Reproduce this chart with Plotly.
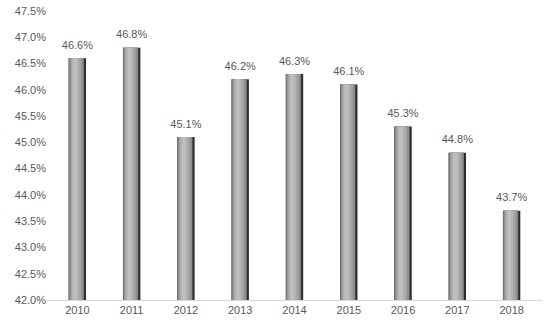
import plotly.graph_objects as go

years = ["2010", "2011", "2012", "2013", "2014", "2015", "2016", "2017", "2018"]
values = [46.6, 46.8, 45.1, 46.2, 46.3, 46.1, 45.3, 44.8, 43.7]
labels = ["46.6%", "46.8%", "45.1%", "46.2%", "46.3%", "46.1%", "45.3%", "44.8%", "43.7%"]
tick_vals = [42.0, 42.5, 43.0, 43.5, 44.0, 44.5, 45.0, 45.5, 46.0, 46.5, 47.0, 47.5]
tick_text = ["42.0%", "42.5%", "43.0%", "43.5%", "44.0%", "44.5%", "45.0%", "45.5%", "46.0%", "46.5%", "47.0%", "47.5%"]

FONT = "Liberation Sans, Arial, sans-serif"
BAR_W = 0.32
# layers: (width fraction, offset fraction from left edge, colour) to imitate a shaded cylinder
layers = [
    (1.00, 0.00, "#2e2e2e"),
    (0.88, 0.00, "#707070"),
    (0.80, 0.05, "#8e8e8e"),
    (0.62, 0.11, "#a4a4a4"),
    (0.40, 0.19, "#b4b4b4"),
    (0.20, 0.27, "#bfbfbf"),
]

fig = go.Figure()
for wf, of, col in layers:
    w = BAR_W * wf
    off = -BAR_W / 2 + BAR_W * of
    fig.add_trace(go.Bar(
        x=years, y=[v - 42.0 for v in values], base=42.0,
        width=w, offset=off,
        marker=dict(color=col, line=dict(width=0)),
        hoverinfo="skip", showlegend=False,
    ))

fig.add_trace(go.Scatter(
    x=years, y=values, mode="markers+text", text=labels,
    textposition="top center",
    marker=dict(size=9, color="rgba(0,0,0,0)"),
    textfont=dict(color="#595959", size=11, family=FONT),
    cliponaxis=False, hoverinfo="skip", showlegend=False,
))

fig.update_layout(
    width=550, height=326,
    barmode="overlay",
    margin=dict(l=47, r=8, t=11, b=26),
    paper_bgcolor="white", plot_bgcolor="white",
    font=dict(family=FONT, color="#595959", size=11),
    xaxis=dict(
        type="category",
        showgrid=False, showline=True, linecolor="#d9d9d9", linewidth=1,
        ticks="", tickfont=dict(size=11, color="#595959"), automargin=False,
    ),
    yaxis=dict(
        range=[42.0, 47.5], tickvals=tick_vals, ticktext=tick_text,
        showgrid=False, showline=False, zeroline=False, ticks="",
        tickfont=dict(size=11, color="#595959"), automargin=False,
    ),
)

fig.write_html(
    "out.html",
    config={"displayModeBar": False, "staticPlot": True},
    post_script="document.body.style.margin='0';",
)
